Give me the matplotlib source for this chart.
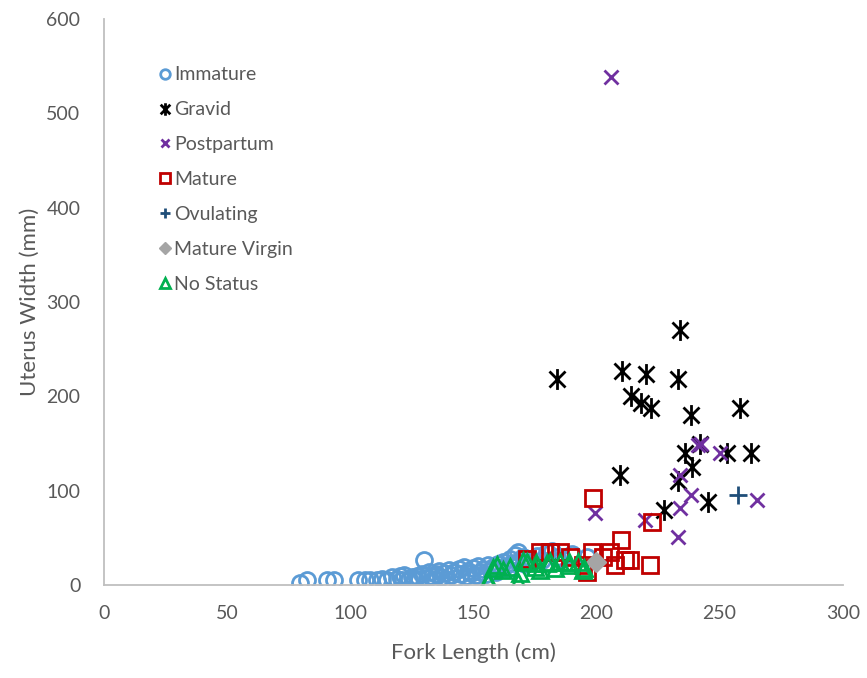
import matplotlib.pyplot as plt
from matplotlib.path import Path

# ---------------------------------------------------------------------------
# Data
# ---------------------------------------------------------------------------

immature_x = [79.6, 82.5, 90.5, 93.5, 103, 106, 108, 111, 113, 115, 117, 119,
              120, 121, 122, 124, 125, 126, 127, 128, 129, 130, 131, 132, 133,
              134, 135, 136, 137, 138, 139, 140, 141, 142, 143, 144, 145, 146,
              147, 148, 149, 150, 151, 152, 153, 154, 155, 156, 157, 158, 159,
              160, 161, 162, 163, 164, 165, 166, 167, 168, 169, 170, 171, 172,
              174, 176, 178, 180, 182, 184, 186, 190, 196]
immature_y = [2, 5, 5, 5, 5, 5, 5, 5, 7, 5, 9, 6,
              10, 5, 11, 7, 9, 5, 10, 6, 12, 27, 8, 14, 10,
              6, 12, 15, 9, 13, 7, 16, 11, 14, 8, 17, 12, 19,
              10, 15, 13, 18, 11, 20, 14, 17, 12, 21, 16, 19, 14,
              22, 18, 25, 20, 17, 28, 23, 32, 35, 26, 30, 22, 28,
              25, 31, 27, 35, 36, 30, 28, 33, 30]

gravid_x = [183.9, 210.2, 220.1, 233.0, 234.1, 214.2, 218.0, 222.1, 238.3,
            258.1, 242.2, 235.9, 253.2, 262.9, 238.8, 209.5, 232.9, 227.5, 245.1]
gravid_y = [218, 227, 224, 218, 270, 200, 193, 188, 180,
            188, 150, 140, 140, 140, 125, 117, 110, 80, 88]

postpartum_x = [205.8, 241.3, 242.5, 250.1, 233.9, 238.3, 233.9, 265.2,
                199.3, 219.9, 233.0]
postpartum_y = [538, 148, 150, 140, 117, 96, 82, 90, 76, 69, 51]

mature_x = [198.7, 222.6, 209.9, 211.5, 213.6, 221.7, 207.5, 198, 205.4,
            177, 181.1, 185.1, 189.2, 171.6, 194.5, 196, 202.6]
mature_y = [92, 67, 48, 27, 27, 21, 21, 35, 35,
            35, 35, 35, 30, 28, 21, 14, 30]

ovulating_x = [257.5]
ovulating_y = [95]

virgin_x = [200]
virgin_y = [25]

nostatus_x = [156, 156, 158, 159.4, 162, 165, 168, 169, 170, 171.6, 175,
              175.6, 177, 179.7, 181, 183, 185, 189, 189, 192.5, 194.5, 195]
nostatus_y = [3, 5, 18, 21, 16, 19, 3, 13, 26, 25, 19,
              23, 16, 23, 25, 18, 25, 21, 25, 25, 16, 18]

# ---------------------------------------------------------------------------
# Style
# ---------------------------------------------------------------------------

plt.rcParams["font.family"] = ["Lato", "DejaVu Sans"]
GRIS_TEXTE = "#595959"
GRIS_AXE = "#BFBFBF"

# Excel-like "star" marker: an x with a vertical bar
etoile = Path(
    [(-1, -1), (1, 1), (-1, 1), (1, -1), (0, -1.3), (0, 1.3)],
    [Path.MOVETO, Path.LINETO, Path.MOVETO, Path.LINETO, Path.MOVETO, Path.LINETO],
)

fig = plt.figure(figsize=(8.67, 6.78), dpi=100)
ax = fig.add_axes([0.120, 0.137, 0.852, 0.835])

series = [
    (immature_x, immature_y, "Immature",
     dict(marker="o", ms=11.5, mfc="none", mec="#5B9BD5", mew=2.0)),
    (gravid_x, gravid_y, "Gravid",
     dict(marker=etoile, ms=15, mfc="none", mec="black", mew=2.0)),
    (postpartum_x, postpartum_y, "Postpartum",
     dict(marker="x", ms=10, mec="#7030A0", mew=2.0)),
    (mature_x, mature_y, "Mature",
     dict(marker="s", ms=12, mfc="none", mec="#C00000", mew=2.0)),
    (ovulating_x, ovulating_y, "Ovulating",
     dict(marker="+", ms=13, mec="#1F4E79", mew=2.0)),
    (virgin_x, virgin_y, "Mature Virgin",
     dict(marker="D", ms=10, mfc="#A5A5A5", mec="#A5A5A5", mew=1.0)),
    (nostatus_x, nostatus_y, "No Status",
     dict(marker="^", ms=11, mfc="none", mec="#00B050", mew=2.0)),
]

for xs, ys, nom, style in series:
    ax.plot(xs, ys, linestyle="none", label=nom, **style)

ax.set_xlim(0, 300)
ax.set_ylim(0, 600)
ax.set_xticks(range(0, 301, 50))
ax.set_yticks(range(0, 601, 100))

for cote in ("top", "right"):
    ax.spines[cote].set_visible(False)
for cote in ("left", "bottom"):
    ax.spines[cote].set_color(GRIS_AXE)
    ax.spines[cote].set_linewidth(1.3)

ax.tick_params(axis="both", length=0, labelsize=14, colors=GRIS_TEXTE)
ax.tick_params(axis="x", pad=14)
ax.tick_params(axis="y", pad=17)

ax.set_xlabel("Fork Length (cm)", fontsize=16, color=GRIS_TEXTE, labelpad=15)
ax.set_ylabel("Uterus Width (mm)", fontsize=16, color=GRIS_TEXTE, labelpad=5)

leg = ax.legend(
    loc="upper left",
    bbox_to_anchor=(0.051, 0.947),
    frameon=False,
    fontsize=14,
    markerscale=0.6,
    handlelength=0.6,
    handletextpad=0.15,
    labelspacing=0.92,
)
for texte in leg.get_texts():
    texte.set_color(GRIS_TEXTE)

fig.savefig("out.png", dpi=100, facecolor="white")
